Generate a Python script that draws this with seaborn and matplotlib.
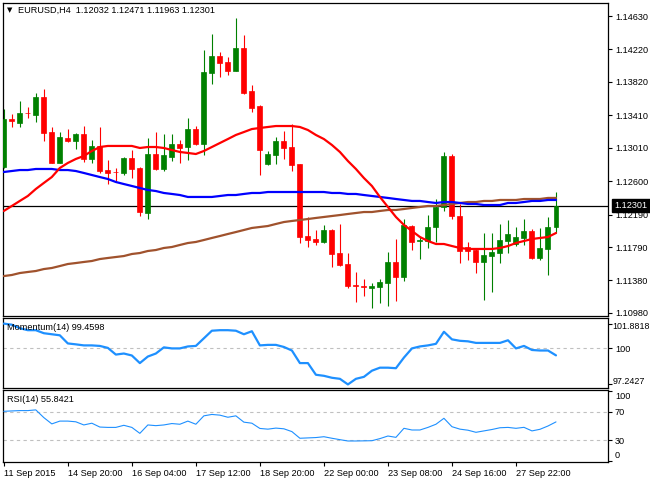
import numpy as np
import pandas as pd
import matplotlib
matplotlib.use("Agg")
import matplotlib.pyplot as plt
import matplotlib.transforms as mtransforms
import seaborn as sns

# -------------------------
# DATA (EURUSD H4)
# -------------------------
symbol = "EURUSD"
timeframe = "H4"

open_ = [1.12774, 1.13364, 1.13315, 1.13444, 1.13413, 1.13635, 1.13204, 1.12824, 1.13131, 1.13094,
         1.13180, 1.12873, 1.13033, 1.12737, 1.12719, 1.12701, 1.12885, 1.12762, 1.12209, 1.12934,
         1.12750, 1.12897, 1.13057, 1.13020, 1.13241, 1.13057, 1.13929, 1.14138, 1.14065, 1.13954,
         1.14237, 1.13708, 1.13524, 1.12811, 1.12922, 1.13094, 1.13020, 1.12811, 1.11926, 1.11889,
         1.11853, 1.12000, 1.11717, 1.11582, 1.11318, 1.11312, 1.11293, 1.11299, 1.11348, 1.11607,
         1.11422, 1.12049, 1.11859, 1.11865, 1.12037, 1.12283, 1.12910, 1.12172, 1.11791, 1.11754,
         1.11607, 1.11680, 1.11717, 1.11865, 1.11828, 1.11902, 1.11988, 1.11656, 1.11767, 1.12032]
high = [1.13487, 1.13426, 1.13585, 1.13512, 1.13684, 1.13733, 1.13266, 1.13204, 1.13241, 1.13192,
        1.13278, 1.13106, 1.13266, 1.12860, 1.12762, 1.12897, 1.12983, 1.12774, 1.13131, 1.13204,
        1.13180, 1.13180, 1.13106, 1.13376, 1.13278, 1.14212, 1.14409, 1.14188, 1.14126, 1.14605,
        1.14396, 1.13782, 1.13536, 1.12971, 1.13143, 1.13217, 1.13303, 1.12811, 1.12160, 1.12000,
        1.12062, 1.12012, 1.12074, 1.11717, 1.11484, 1.11398, 1.11348, 1.11398, 1.11730, 1.11889,
        1.12135, 1.12062, 1.11914, 1.12184, 1.12381, 1.12959, 1.12934, 1.12320, 1.11853, 1.11767,
        1.11963, 1.11963, 1.12074, 1.12123, 1.12037, 1.12135, 1.12012, 1.12025, 1.12160, 1.12471]
low = [1.12762, 1.13266, 1.13266, 1.13376, 1.13327, 1.13094, 1.12824, 1.12824, 1.13081, 1.12996,
       1.12836, 1.12824, 1.12701, 1.12565, 1.12602, 1.12676, 1.12639, 1.12172, 1.12135, 1.12737,
       1.12725, 1.12848, 1.12824, 1.12860, 1.13045, 1.12922, 1.13794, 1.13880, 1.13905, 1.13954,
       1.13671, 1.13450, 1.12676, 1.12799, 1.12811, 1.12873, 1.12725, 1.11840, 1.11791, 1.11816,
       1.11840, 1.11545, 1.11557, 1.11287, 1.11115, 1.11189, 1.11041, 1.11103, 1.11066, 1.11127,
       1.11373, 1.11754, 1.11643, 1.11779, 1.11853, 1.12234, 1.12135, 1.11594, 1.11631, 1.11471,
       1.11140, 1.11238, 1.11594, 1.11717, 1.11803, 1.11816, 1.11643, 1.11631, 1.11447, 1.11963]
close = [1.13364, 1.13339, 1.13438, 1.13432, 1.13635, 1.13192, 1.12824, 1.13143, 1.13094, 1.13180,
         1.12873, 1.13033, 1.12725, 1.12701, 1.12707, 1.12885, 1.12750, 1.12221, 1.12934, 1.12750,
         1.12922, 1.13057, 1.13008, 1.13241, 1.13057, 1.13942, 1.14138, 1.14052, 1.13954, 1.14237,
         1.13684, 1.13499, 1.12983, 1.12934, 1.13094, 1.13008, 1.12799, 1.11914, 1.11877, 1.11853,
         1.12000, 1.11705, 1.11570, 1.11312, 1.11306, 1.11299, 1.11306, 1.11361, 1.11607, 1.11422,
         1.12062, 1.11853, 1.11871, 1.12037, 1.12283, 1.12910, 1.12172, 1.11742, 1.11742, 1.11607,
         1.11693, 1.11730, 1.11877, 1.11951, 1.11914, 1.11988, 1.11656, 1.11779, 1.12037, 1.12301]

# moving averages (red = fast, blue = medium, brown = slow)
ma_fast = [1.12234, 1.12295, 1.12357, 1.12418, 1.12504, 1.12578, 1.12651, 1.12762, 1.12824, 1.12873,
           1.12910, 1.12971, 1.13020, 1.13033, 1.13033, 1.13033, 1.13033, 1.13008, 1.13020, 1.13020,
           1.13008, 1.12983, 1.12959, 1.12947, 1.12934, 1.12971, 1.13020, 1.13069, 1.13118, 1.13168,
           1.13204, 1.13241, 1.13254, 1.13266, 1.13278, 1.13278, 1.13278, 1.13266, 1.13229, 1.13168,
           1.13118, 1.13045, 1.12959, 1.12848, 1.12750, 1.12639, 1.12541, 1.12406, 1.12283, 1.12160,
           1.12062, 1.11988, 1.11914, 1.11865, 1.11828, 1.11828, 1.11803, 1.11779, 1.11767, 1.11767,
           1.11767, 1.11767, 1.11779, 1.11803, 1.11840, 1.11865, 1.11889, 1.11902, 1.11914, 1.11963]
ma_mid = [1.12713, 1.12725, 1.12737, 1.12737, 1.12750, 1.12750, 1.12750, 1.12737, 1.12737, 1.12725,
          1.12701, 1.12676, 1.12651, 1.12627, 1.12590, 1.12565, 1.12541, 1.12516, 1.12492, 1.12479,
          1.12455, 1.12443, 1.12430, 1.12406, 1.12406, 1.12406, 1.12406, 1.12418, 1.12430, 1.12430,
          1.12443, 1.12455, 1.12455, 1.12467, 1.12467, 1.12467, 1.12467, 1.12467, 1.12467, 1.12467,
          1.12467, 1.12455, 1.12455, 1.12443, 1.12443, 1.12430, 1.12418, 1.12406, 1.12394, 1.12381,
          1.12369, 1.12357, 1.12357, 1.12344, 1.12332, 1.12344, 1.12344, 1.12332, 1.12320, 1.12320,
          1.12307, 1.12307, 1.12307, 1.12332, 1.12332, 1.12344, 1.12357, 1.12357, 1.12369, 1.12369]
ma_slow = [1.11434, 1.11447, 1.11471, 1.11484, 1.11496, 1.11520, 1.11533, 1.11557, 1.11582, 1.11594,
           1.11607, 1.11619, 1.11643, 1.11656, 1.11668, 1.11680, 1.11705, 1.11717, 1.11742, 1.11754,
           1.11779, 1.11791, 1.11816, 1.11840, 1.11853, 1.11877, 1.11902, 1.11926, 1.11951, 1.11975,
           1.12000, 1.12025, 1.12037, 1.12049, 1.12074, 1.12098, 1.12111, 1.12123, 1.12135, 1.12148,
           1.12160, 1.12172, 1.12184, 1.12197, 1.12209, 1.12221, 1.12221, 1.12234, 1.12246, 1.12246,
           1.12258, 1.12271, 1.12283, 1.12295, 1.12295, 1.12307, 1.12320, 1.12332, 1.12344, 1.12344,
           1.12357, 1.12357, 1.12369, 1.12369, 1.12369, 1.12381, 1.12381, 1.12381, 1.12394, 1.12394]

momentum = [101.8818, 101.80, 101.53, 101.38, 101.38, 101.15, 101.07, 100.99, 100.37, 100.30,
            100.22, 100.22, 100.18, 100.03, 99.52, 99.60, 99.45, 98.87, 99.37, 99.60,
            100.07, 99.99, 99.99, 100.14, 100.18, 100.76, 101.34, 101.38, 101.38, 101.34,
            101.07, 101.30, 100.22, 100.26, 100.26, 100.10, 99.83, 98.87, 98.87, 97.98,
            97.90, 97.75, 97.67, 97.2427, 97.67, 97.82, 98.29, 98.52, 98.52, 98.48,
            99.29, 99.99, 100.14, 100.22, 100.34, 101.26, 100.68, 100.57, 100.53, 100.41,
            100.41, 100.41, 100.41, 100.61, 99.99, 100.18, 99.87, 99.83, 99.83, 99.4598]
rsi = [71.0, 71.5, 72.0, 72.0, 73.0, 62.0, 53.0, 57.0, 57.0, 56.0,
       51.5, 54.0, 48.5, 48.0, 48.0, 51.0, 48.0, 39.5, 51.5, 50.5,
       51.5, 53.5, 52.5, 57.0, 52.5, 64.5, 66.5, 65.5, 62.5, 64.5,
       55.5, 54.0, 46.5, 45.5, 47.0, 46.0, 42.0, 32.5, 33.0, 33.5,
       34.7, 32.5, 30.5, 28.6, 28.6, 28.8, 29.0, 32.0, 35.7, 33.8,
       46.7, 44.3, 44.3, 48.0, 52.5, 61.0, 49.0, 45.5, 44.0, 41.0,
       43.0, 45.0, 47.5, 48.0, 46.7, 48.1, 43.0, 45.3, 50.0, 55.8421]

time_labels = ["11 Sep 2015", "14 Sep 20:00", "16 Sep 04:00", "17 Sep 12:00", "18 Sep 20:00",
               "22 Sep 00:00", "23 Sep 08:00", "24 Sep 16:00", "27 Sep 22:00"]
price_ticks = [1.14630, 1.14220, 1.13820, 1.13410, 1.13010, 1.12600, 1.12190, 1.11790, 1.11380, 1.10980]

df = pd.DataFrame({"open": open_, "high": high, "low": low, "close": close,
                   "ma_fast": ma_fast, "ma_mid": ma_mid, "ma_slow": ma_slow,
                   "momentum": momentum, "rsi": rsi})
df["bar"] = np.arange(len(df))

# -------------------------
# STYLE / LAYOUT
# -------------------------
sns.set_style("white")
plt.rcParams['font.family'] = ['Liberation Sans', 'DejaVu Sans']
FS = 6.6

W, H = 650, 480
fig = plt.figure(figsize=(6.5, 4.8), dpi=100)
ax = fig.add_axes([3 / W, 1 - 316 / H, 605 / W, 313 / H])
ax_m = fig.add_axes([3 / W, 1 - 388 / H, 605 / W, 70 / H])
ax_r = fig.add_axes([3 / W, 1 - 462 / H, 605 / W, 72 / H])

for a in (ax, ax_m, ax_r):
    a.set_xlim(-0.1, 75.5)
    for s in a.spines.values():
        s.set_visible(True)
        s.set_color("black")
        s.set_linewidth(0.9)
    a.yaxis.tick_right()
    a.tick_params(axis="y", direction="out", length=3, width=0.8, pad=2,
                  labelsize=FS, colors="black", right=True, left=False)


def right_label(a, value, text, dy_px=0.0, size=FS, pad=5):
    # label drawn just right of the axis, optionally nudged up/down in pixels
    tr = a.get_yaxis_text2_transform(pad)[0] + \
        mtransforms.ScaledTranslation(0, dy_px / 100, fig.dpi_scale_trans)
    a.text(1.0, value, text, fontsize=size, va="center", ha="left",
           transform=tr, clip_on=False, color="black")


# -------------------------
# MAIN PRICE PANEL
# -------------------------
up = df["close"] >= df["open"]
colors = np.where(up, "#008000", "#FF0000")

ax.axhline(df["close"].iloc[-1], color="black", lw=0.9, zorder=1)
ax.vlines(df["bar"], df["low"], df["high"], colors=colors, linewidth=0.8, zorder=2)
ax.bar(df["bar"], (df["close"] - df["open"]).abs(),
       bottom=np.minimum(df["open"], df["close"]), width=0.62,
       color=colors, edgecolor=colors, linewidth=0.5, zorder=3)

sns.lineplot(data=df, x="bar", y="ma_slow", ax=ax, color="#A0522D", linewidth=1.6, zorder=4)
sns.lineplot(data=df, x="bar", y="ma_mid", ax=ax, color="#0000FF", linewidth=1.6, zorder=4)
sns.lineplot(data=df, x="bar", y="ma_fast", ax=ax, color="#FF0000", linewidth=1.6, zorder=5)

ax.set_ylim(1.10943, 1.14790)
ax.set_yticks(price_ticks)
ax.set_yticklabels([f"{v:.5f}" for v in price_ticks])
ax.set_xticks([])
ax.set_xlabel("")
ax.set_ylabel("")

# current price box on the right axis
last = df["close"].iloc[-1]
box_tr = mtransforms.blended_transform_factory(ax.transAxes, ax.transData) + \
    mtransforms.ScaledTranslation(6.5 / 100, 0, fig.dpi_scale_trans)
ax.text(1.0, last, f"{last:.5f}", transform=box_tr, ha="left", va="center",
        fontsize=FS, color="white", clip_on=False, zorder=10,
        bbox=dict(boxstyle="square,pad=0.25", fc="black", ec="black"))

header = f"{symbol},{timeframe}  {open_[-1]:.5f} {high[-1]:.5f} {low[-1]:.5f} {close[-1]:.5f}"
fig.text(18 / W, 1 - 10 / H, header, fontsize=FS, va="center", ha="left", color="black")
fig.text(7 / W, 1 - 10.5 / H, "\u25BC", fontsize=5, va="center", ha="left", color="black",
         family="DejaVu Sans")

# -------------------------
# MOMENTUM PANEL
# -------------------------
ax_m.axhline(100, color="#C0C0C0", lw=0.8, ls=(0, (3, 3)), zorder=1)
sns.lineplot(data=df, x="bar", y="momentum", ax=ax_m, color="#1E90FF", linewidth=1.6, zorder=3)
ax_m.set_ylim(96.97, 102.31)
mom_hi, mom_lo = max(momentum), min(momentum)
ax_m.set_yticks([mom_hi, 100, mom_lo])
ax_m.set_yticklabels(["", "100", ""])
right_label(ax_m, mom_hi, f"{mom_hi:.4f}", dy_px=-2.5, size=6.4, pad=3.2)
right_label(ax_m, mom_lo, f"{mom_lo:.4f}", dy_px=2.5, size=6.4, pad=3.2)
ax_m.set_xticks([])
ax_m.set_xlabel("")
ax_m.set_ylabel("")
ax_m.text(4 / 605, 1 - 9 / 70, f"Momentum(14) {momentum[-1]:.4f}", transform=ax_m.transAxes,
          fontsize=FS, va="center", ha="left", color="black", zorder=5)

# -------------------------
# RSI PANEL
# -------------------------
for lvl in (70, 30):
    ax_r.axhline(lvl, color="#C0C0C0", lw=0.8, ls=(0, (3, 3)), zorder=1)
sns.lineplot(data=df, x="bar", y="rsi", ax=ax_r, color="#1E90FF", linewidth=0.8, zorder=3)
ax_r.set_ylim(-1.4, 101.4)
ax_r.set_yticks([100, 70, 30, 0])
ax_r.set_yticklabels(["", "70", "30", ""])
right_label(ax_r, 100, "100", dy_px=-5.5)
right_label(ax_r, 0, "0", dy_px=6)
ax_r.text(4 / 605, 1 - 9 / 72, f"RSI(14) {rsi[-1]:.4f}", transform=ax_r.transAxes,
          fontsize=FS, va="center", ha="left", color="black", zorder=5)

tick_pos = df["bar"].iloc[::8].tolist()
ax_r.set_xticks(tick_pos)
ax_r.set_xticklabels(time_labels[:len(tick_pos)])
for lbl in ax_r.get_xticklabels():
    lbl.set_horizontalalignment("left")
ax_r.tick_params(axis="x", direction="out", length=3, width=0.8, pad=2,
                 labelsize=FS, colors="black", bottom=True)
ax_r.set_xlabel("")
ax_r.set_ylabel("")

fig.savefig("out.png", dpi=100, facecolor="white")
